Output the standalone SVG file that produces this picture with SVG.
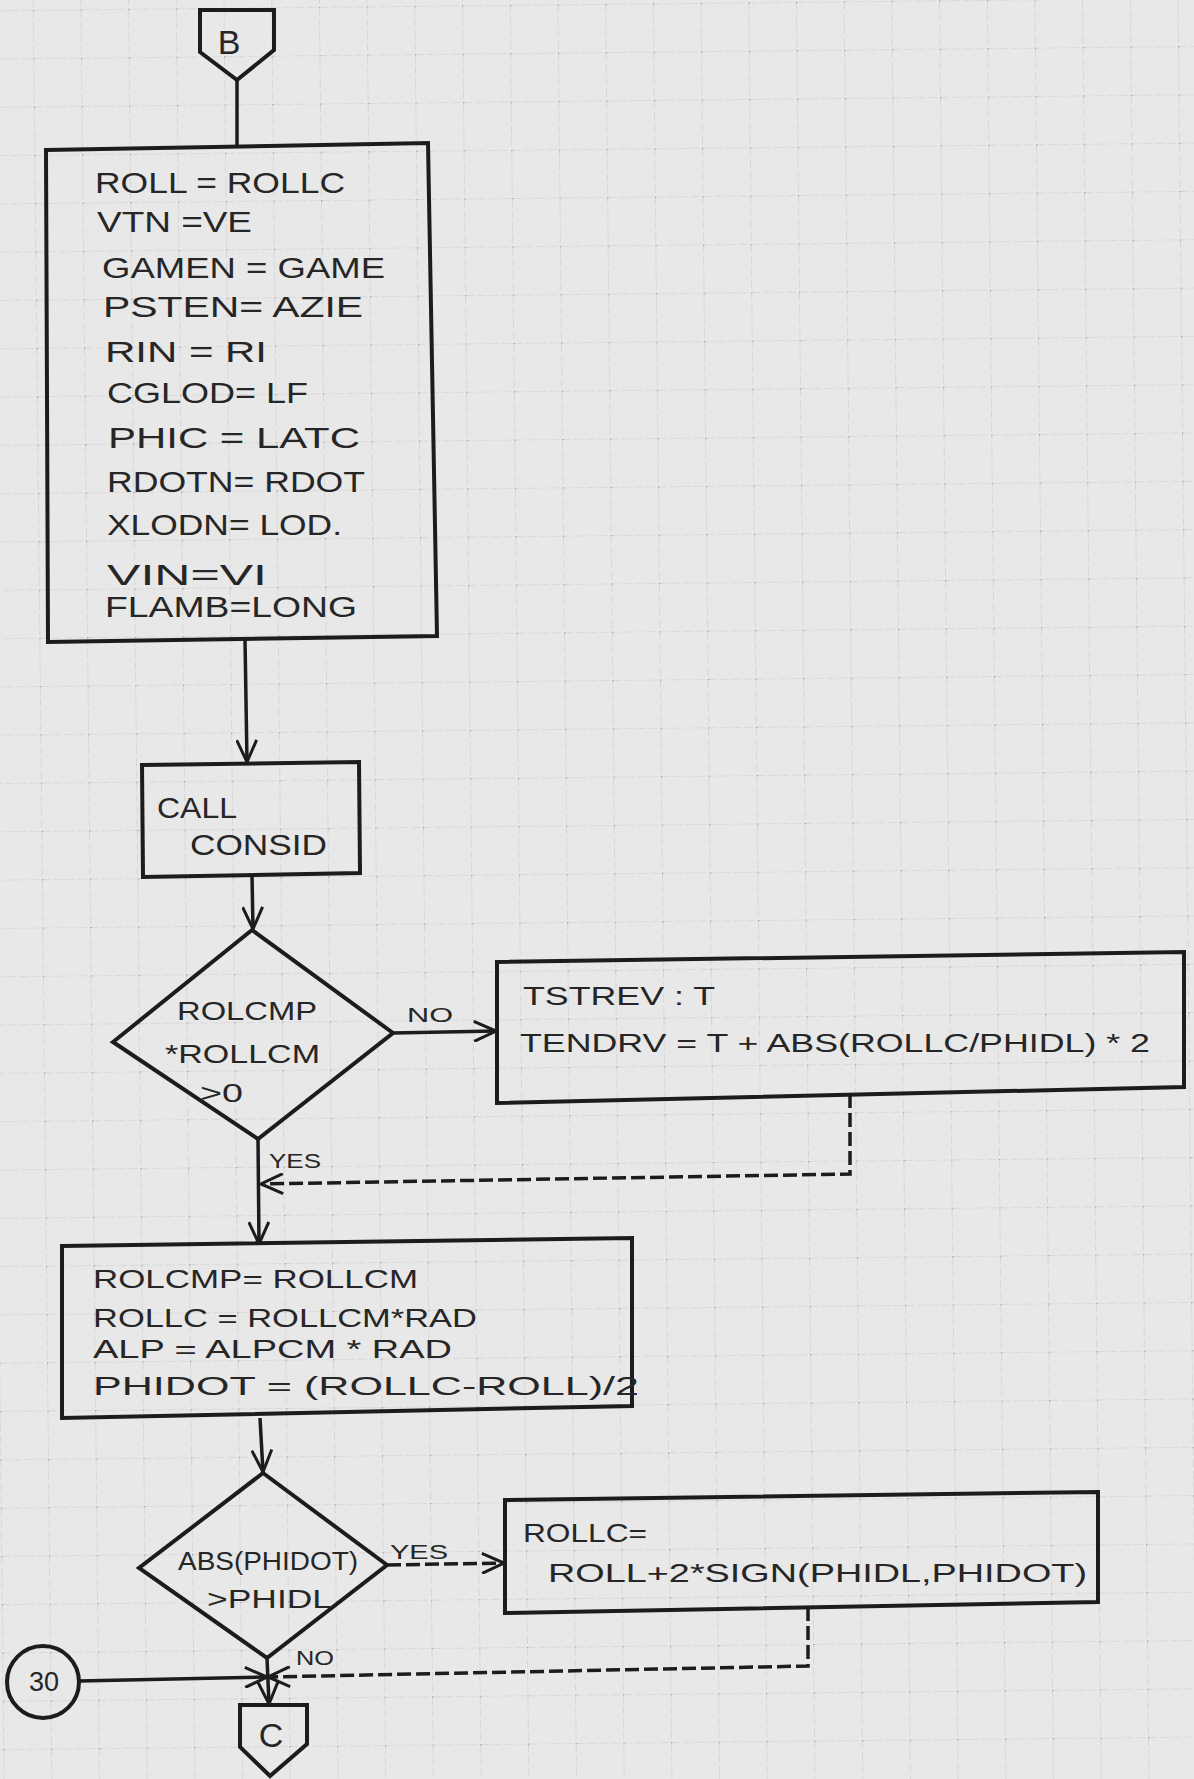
<svg xmlns="http://www.w3.org/2000/svg" width="1194" height="1779" viewBox="0 0 1194 1779">
<style>
.node{fill:none;stroke:#1c1c1c;stroke-width:4;stroke-linejoin:miter}
.conn{fill:none;stroke:#1c1c1c;stroke-width:3.5}
.dash{stroke-dasharray:14 5}
text{font-family:"Liberation Sans","DejaVu Sans",sans-serif;fill:#262626}
.t{font-size:30px}
.m{font-size:25px}
.s{font-size:21px}
</style>
<defs>
<pattern id="grid" x="42" y="4" width="47.7" height="48.3" patternUnits="userSpaceOnUse" patternTransform="rotate(-0.6 597 890)">
<path d="M0,0 L47.7,0 M0,0 L0,48.3" fill="none" stroke="#cbcbcb" stroke-width="1.2" stroke-dasharray="9 3"/>
<circle cx="0" cy="0" r="1.6" fill="#a5a5a5"/>
</pattern>
<marker id="arr" viewBox="0 0 24 22" refX="23" refY="11" markerWidth="24" markerHeight="22" markerUnits="userSpaceOnUse" orient="auto">
<path d="M1,1 L23,11 L1,21" fill="none" stroke="#1c1c1c" stroke-width="3"/>
</marker>
</defs>
<rect width="1194" height="1779" fill="#e8e8e8"/>
<rect x="-20" y="-20" width="1234" height="1819" fill="url(#grid)"/>

<g id="connectors">
<line class="conn" x1="237" y1="80" x2="237" y2="148"/>
<line class="conn" x1="245" y1="639" x2="247" y2="762" marker-end="url(#arr)"/>
<line class="conn" x1="252" y1="875" x2="253" y2="929" marker-end="url(#arr)"/>
<line class="conn" x1="393" y1="1033" x2="496" y2="1031" marker-end="url(#arr)"/>
<line class="conn" x1="258" y1="1139" x2="259" y2="1244" marker-end="url(#arr)"/>
<path class="conn dash" d="M850,1094 L850,1174 L261,1184" marker-end="url(#arr)"/>
<line class="conn" x1="260" y1="1418" x2="263" y2="1472" marker-end="url(#arr)"/>
<line class="conn dash" x1="387" y1="1565" x2="504" y2="1563" marker-end="url(#arr)"/>
<line class="conn" x1="267" y1="1658" x2="269" y2="1704" marker-end="url(#arr)"/>
<path class="conn dash" d="M808,1607 L808,1666 L268,1677" marker-end="url(#arr)"/>
<line class="conn" x1="79" y1="1681" x2="267" y2="1677" marker-end="url(#arr)"/>
<text class="s" x="407" y="1022" font-size="26" textLength="46" lengthAdjust="spacingAndGlyphs">NO</text>
<text class="s" x="269" y="1168" textLength="52" lengthAdjust="spacingAndGlyphs">YES</text>
<text class="s" x="390" y="1559" textLength="58" lengthAdjust="spacingAndGlyphs">YES</text>
<text class="s" x="296" y="1665" textLength="38" lengthAdjust="spacingAndGlyphs" fill="#555">NO</text>
</g>

<g id="connB">
<path class="node" d="M200,10 L274,10 L274,50 L237,80 L200,52 Z"/>
<text x="229" y="54" font-size="34" text-anchor="middle">B</text>
</g>

<g id="assign1">
<path class="node" d="M46,150 L428,143 L437,636 L48,642 Z"/>
<text class="t" x="95" y="193" textLength="250" lengthAdjust="spacingAndGlyphs">ROLL = ROLLC</text>
<text class="t" x="97" y="232" textLength="155" lengthAdjust="spacingAndGlyphs">VTN =VE</text>
<text class="t" x="102" y="278" textLength="283" lengthAdjust="spacingAndGlyphs">GAMEN = GAME</text>
<text class="t" x="103" y="317" textLength="260" lengthAdjust="spacingAndGlyphs">PSTEN= AZIE</text>
<text class="t" x="105" y="362" textLength="162" lengthAdjust="spacingAndGlyphs">RIN = RI</text>
<text class="t" x="107" y="403" textLength="201" lengthAdjust="spacingAndGlyphs">CGLOD= LF</text>
<text class="t" x="108" y="448" textLength="252" lengthAdjust="spacingAndGlyphs">PHIC = LATC</text>
<text class="t" x="107" y="492" textLength="258" lengthAdjust="spacingAndGlyphs">RDOTN= RDOT</text>
<text class="t" x="107" y="535" textLength="235" lengthAdjust="spacingAndGlyphs">XLODN= LOD.</text>
<text class="t" x="107" y="585" textLength="160" lengthAdjust="spacingAndGlyphs">VIN=VI</text>
<text class="t" x="105" y="617" textLength="252" lengthAdjust="spacingAndGlyphs">FLAMB=LONG</text>
</g>

<g id="callConsid">
<path class="node" d="M142,765 L359,762 L360,873 L143,877 Z"/>
<text class="t" x="157" y="818" textLength="80" lengthAdjust="spacingAndGlyphs">CALL</text>
<text class="t" x="190" y="855" textLength="137" lengthAdjust="spacingAndGlyphs">CONSID</text>
</g>

<g id="decision1">
<path class="node" d="M252,930 L393,1033 L258,1139 L113,1042 Z"/>
<text class="m" x="177" y="1020" textLength="140" lengthAdjust="spacingAndGlyphs">ROLCMP</text>
<text class="m" x="165" y="1063" textLength="155" lengthAdjust="spacingAndGlyphs">*ROLLCM</text>
<text class="m" x="200" y="1102" textLength="43" lengthAdjust="spacingAndGlyphs">&gt;0</text>
</g>

<g id="reversal">
<path class="node" d="M497,962 L1184,952 L1184,1087 L497,1103 Z"/>
<text class="m" x="523" y="1005" textLength="192" lengthAdjust="spacingAndGlyphs">TSTREV : T</text>
<text class="m" x="520" y="1052" textLength="630" lengthAdjust="spacingAndGlyphs">TENDRV = T + ABS(ROLLC/PHIDL) * 2</text>
</g>

<g id="assign2">
<path class="node" d="M62,1246 L632,1238 L632,1406 L62,1418 Z"/>
<text class="m" x="93" y="1288" textLength="325" lengthAdjust="spacingAndGlyphs">ROLCMP= ROLLCM</text>
<text class="m" x="93" y="1327" textLength="384" lengthAdjust="spacingAndGlyphs">ROLLC = ROLLCM*RAD</text>
<text class="m" x="93" y="1358" textLength="359" lengthAdjust="spacingAndGlyphs">ALP  = ALPCM * RAD</text>
<text class="m" x="93" y="1395" textLength="546" lengthAdjust="spacingAndGlyphs">PHIDOT = (ROLLC-ROLL)/2</text>
</g>

<g id="decision2">
<path class="node" d="M263,1473 L387,1565 L267,1658 L139,1568 Z"/>
<text class="m" x="178" y="1570" textLength="180" lengthAdjust="spacingAndGlyphs">ABS(PHIDOT)</text>
<text class="m" x="207" y="1608" textLength="125" lengthAdjust="spacingAndGlyphs">&gt;PHIDL</text>
</g>

<g id="limit">
<path class="node" d="M505,1500 L1098,1492 L1098,1602 L505,1613 Z"/>
<text class="m" x="523" y="1542" textLength="124" lengthAdjust="spacingAndGlyphs">ROLLC=</text>
<text class="m" x="548" y="1582" textLength="539" lengthAdjust="spacingAndGlyphs">ROLL+2*SIGN(PHIDL,PHIDOT)</text>
</g>

<g id="conn30">
<circle class="node" cx="43" cy="1682" r="36" stroke-width="3.5"/>
<text x="44" y="1691" font-size="27" text-anchor="middle">30</text>
</g>

<g id="connC">
<path class="node" d="M240,1705 L307,1705 L307,1744 L270,1776 L240,1747 Z"/>
<text x="271" y="1747" font-size="34" text-anchor="middle">C</text>
</g>
</svg>
